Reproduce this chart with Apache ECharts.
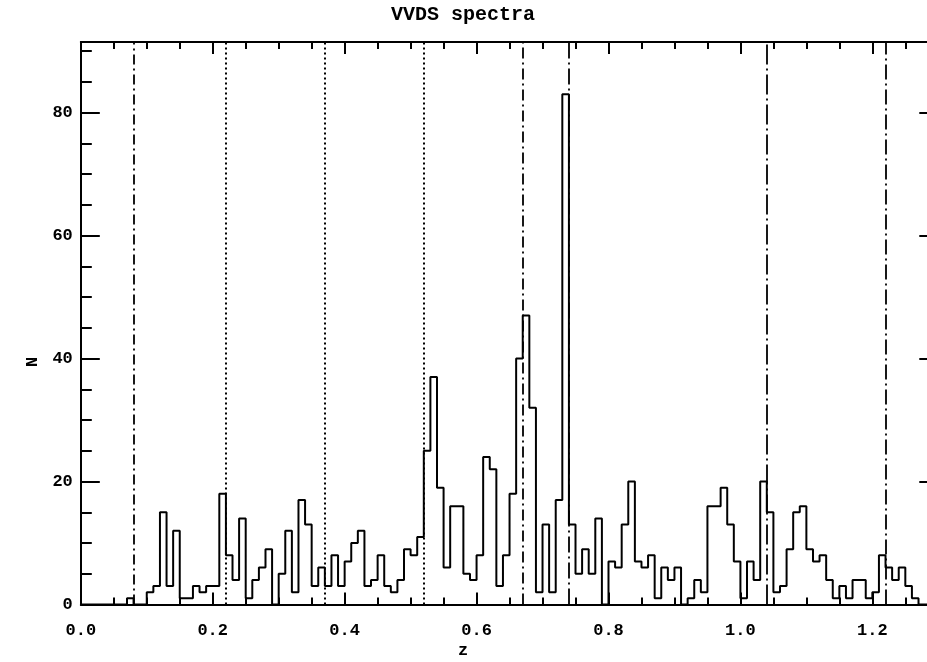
<!DOCTYPE html>
<html><head><meta charset="utf-8">
<script src="https://cdn.jsdelivr.net/npm/echarts@6/dist/echarts.min.js"></script>
<style>html,body{margin:0;padding:0;background:#fff}#c{width:927px;height:662px}</style>
</head><body><div id="c"></div>
<script>
// ---- data ----
const binStart = 0.0;
const binWidth = 0.01;
const counts = [
  0,0,0,0,0,0,0,1,0,0,
  2,3,15,3,12,1,1,3,2,3,
  3,18,8,4,14,1,4,6,9,0,
  5,12,2,17,13,3,6,3,8,3,
  7,10,12,3,4,8,3,2,4,9,
  8,11,25,37,19,6,16,16,5,4,
  8,24,22,3,8,18,40,47,32,2,
  13,2,17,83,13,5,9,5,14,0,
  7,6,13,20,7,6,8,1,6,4,
  6,0,1,4,2,16,16,19,13,7,
  1,7,4,20,15,2,3,9,15,16,
  9,7,8,4,1,3,1,4,4,1,
  2,8,6,4,6,3,1,0,0,0
];
const dashDotLinesZ = [0.0787, 0.670, 0.740, 1.037, 1.219];
const dottedLinesZ = [0.2178, 0.3664, 0.524];
const titleText = 'VVDS spectra';
const xName = 'z';
const yName = 'N';
const xMin = 0, xMax = 1.3, xMajor = 0.2, xMinor = 0.05;
const yMin = 0, yMax = 91.5, yMajor = 20, yMinor = 5;

// ---- styles ----
const dashDotPatterns = [[10,4,2,4],[11,4,2,4],[16,4,2,4],[20,4,2,4],[15,4,2,4]];
const dottedPattern = [2,3];
const FONT = '"Liberation Mono", "DejaVu Sans Mono", monospace';

const histData = counts.map((v, i) => [binStart + i * binWidth, v]);
histData.push([binStart + counts.length * binWidth, 0]);

const markData = [];
dashDotLinesZ.forEach((z, i) => markData.push({xAxis: z, lineStyle: {type: dashDotPatterns[i], width: 1.8, color: '#000'}}));
dottedLinesZ.forEach(z => markData.push({xAxis: z, lineStyle: {type: dottedPattern, width: 2, color: '#000'}}));

function isMult(v, s) { const r = v / s; return Math.abs(r - Math.round(r)) < 1e-6; }
const black = {color: '#000', width: 2};

function xAx(pos, major, showLine, showLabel) {
  return {
    type: 'value', min: xMin, max: xMax, position: pos,
    interval: major ? xMajor : xMinor,
    axisLine: {show: showLine, onZero: false, lineStyle: black},
    axisTick: {show: true, inside: true, length: major ? 12 : 7, lineStyle: black},
    axisLabel: showLabel ? {
      show: true, margin: 18, color: '#000', fontFamily: FONT, fontWeight: 'bold', fontSize: 17,
      hideOverlap: false,
      formatter: v => isMult(v, xMajor) ? v.toFixed(1) : ''
    } : {show: false},
    splitLine: {show: false}
  };
}
function yAx(pos, major, showLine, showLabel) {
  return {
    type: 'value', min: yMin, max: yMax, position: pos,
    interval: major ? yMajor : yMinor,
    axisLine: {show: showLine, onZero: false, lineStyle: black},
    axisTick: {show: true, inside: true, length: major ? 19 : 11, lineStyle: black},
    axisLabel: showLabel ? {
      show: true, margin: 8, color: '#000', fontFamily: FONT, fontWeight: 'bold', fontSize: 17,
      formatter: v => isMult(v, yMajor) ? String(v) : ''
    } : {show: false},
    splitLine: {show: false}
  };
}

const chart = echarts.init(document.getElementById('c'), null, {renderer: 'canvas'});
chart.setOption({
  animation: false,
  backgroundColor: '#fff',
  grid: {left: 80.8, top: 42, width: 857.5, bottom: 57.5, containLabel: false, outerBoundsMode: 'none'},
  xAxis: [xAx('bottom', true, true, true), xAx('bottom', false, false, false),
          xAx('top', true, true, false), xAx('top', false, false, false)],
  yAxis: [yAx('left', true, true, true), yAx('left', false, false, false),
          yAx('right', true, true, false), yAx('right', false, false, false)],
  graphic: [
    {type: 'text', x: 463, y: 15, style: {text: titleText, fill: '#000', font: 'bold 20px ' + FONT, align: 'center', verticalAlign: 'middle'}},
    {type: 'text', x: 463, y: 651, style: {text: xName, fill: '#000', font: 'bold 17px ' + FONT, align: 'center', verticalAlign: 'middle'}},
    {type: 'text', x: 33, y: 362, rotation: Math.PI / 2, style: {text: yName, fill: '#000', font: 'bold 17px ' + FONT, align: 'center', verticalAlign: 'middle'}}
  ],
  series: [{
    type: 'line', xAxisIndex: 0, yAxisIndex: 0, step: 'end',
    data: histData, showSymbol: false, symbol: 'none',
    lineStyle: {color: '#000', width: 2},
    silent: true,
    markLine: {silent: true, symbol: ['none', 'none'], label: {show: false}, animation: false, data: markData}
  }]
});
</script></body></html>
